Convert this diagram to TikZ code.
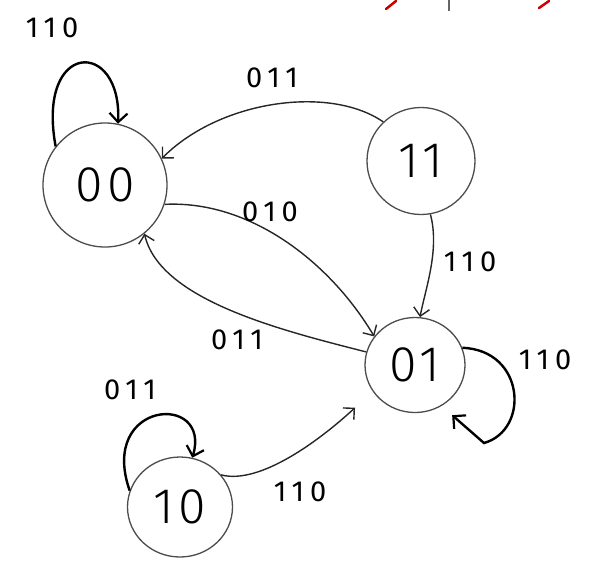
\documentclass[tikz,border=0pt]{standalone}
\usepackage{fontspec}
\usetikzlibrary{arrows.meta,shapes.geometric}
\newfontfamily\handlbl[LetterSpace=20]{Fira Sans}
\newfontfamily\handstate[LetterSpace=8]{Fira Sans Light}

\begin{document}
\begin{tikzpicture}[x=1pt,y=-1pt,
  state/.style={ellipse, draw=black!70, line width=1.3pt, inner sep=0pt,
    font=\handstate\fontsize{50}{50}\selectfont},
  trans/.style={draw=black!85, line width=1.4pt,
    -{Straight Barb[length=8pt,width=16pt,line width=1.4pt]}},
  selfloop/.style={draw=black, line width=2.4pt,
    -{Straight Barb[length=9pt,width=18pt,line width=2.2pt]}},
  lbl/.style={font=\handlbl\fontsize{29}{29}\selectfont, inner sep=0pt}]
\useasboundingbox (0,0) rectangle (591,571);

% stray pen marks along the top edge
\draw[red!80!black, line width=2.5pt, line cap=round] (396,1) -- (386,9);
\draw[black!60, line width=1.5pt] (449,0) -- (449,11);
\draw[red!80!black, line width=2.5pt, line cap=round] (549,1) -- (539,8);

% states
\node[state, minimum width=124pt, minimum height=124pt] (n00) at (105,185) {00};
\node[state, minimum width=108pt, minimum height=107pt] (n11) at (421,161) {11};
\node[state, minimum width=100pt, minimum height=95pt]  (n01) at (415,365) {01};
\node[state, minimum width=105pt, minimum height=100pt] (n10) at (180,507) {10};

% transitions
\draw[selfloop] (n00.142) .. controls (36,40) and (122,38) .. (n00.78);
\draw[trans] (n11.134) .. controls (330,85) and (220,100) .. (n00.25);
\draw[trans] (n00.-18) .. controls (250,200) and (330,262) .. (n01.145);
\draw[trans] (n01.165) .. controls (280,330) and (160,300) .. (n00.-51);
\draw[trans] (n11.-80) .. controls (440,250) and (425,290) .. (n01.84);
\draw[selfloop, shorten >=14pt] (n01.20) .. controls (525,350) and (530,430) .. (484,443)
  -- (n01.-57);
\draw[selfloop] (n10.162) .. controls (98,400) and (212,392) .. (n10.76);
\draw[trans, shorten >=24pt] (n10.38) .. controls (260,485) and (320,440) .. (n01.212);

% transition labels
\node[lbl] (t1) at (52,28) {110};
\node[lbl] (t2) at (272,78) {011};
\node[lbl] (t3) at (270,212) {010};
\node[lbl] (t4) at (237,340) {011};
\node[lbl] (t5) at (470,262) {110};
\node[lbl] (t6) at (545,360) {110};
\node[lbl] (t7) at (130,390) {011};
\node[lbl] (t8) at (300,492) {110};
\end{tikzpicture}
\end{document}
